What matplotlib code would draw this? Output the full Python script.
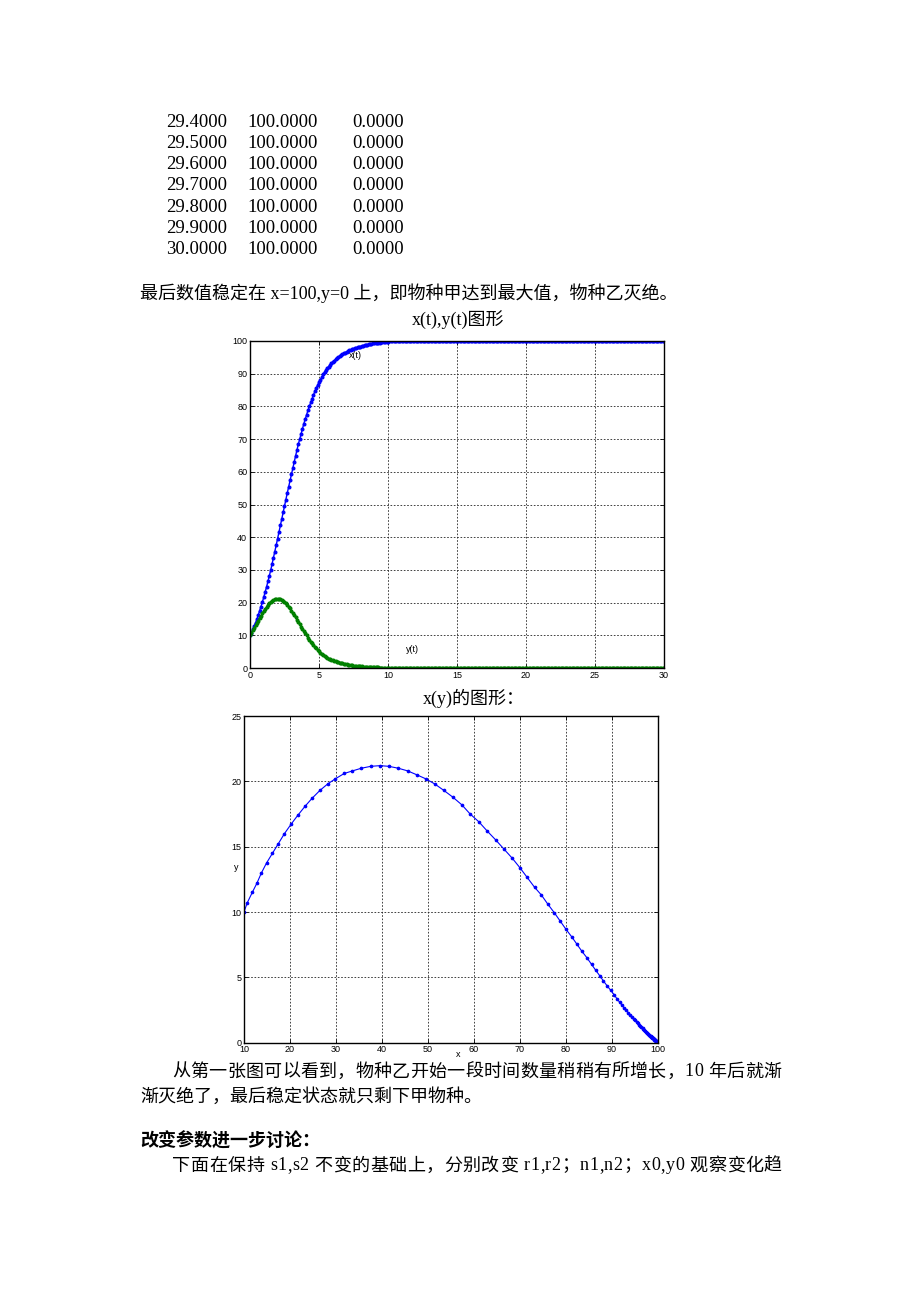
import numpy as np
import matplotlib
matplotlib.use("Agg")
import matplotlib.pyplot as plt

# ---------------- data ----------------
table_t = ["29.4000", "29.5000", "29.6000", "29.7000", "29.8000", "29.9000", "30.0000"]
table_x = ["100.0000"] * 7
table_y = ["0.0000"] * 7

# time grid (0.1 step, 0..30)
t = np.round(np.arange(0, 301) * 0.1, 1)

x_early = [
    10.0, 10.7, 11.8, 12.8, 13.8, 14.9, 16.2, 17.4, 18.8, 20.2,
    21.7, 23.3, 24.8, 26.5, 28.2, 29.9, 31.8, 33.6, 35.5, 37.6,
    39.6, 41.5, 43.6, 45.6, 47.6, 49.5, 51.5, 53.5, 55.4, 57.4,
    59.2, 61.1, 62.9, 64.8, 66.6, 68.4, 70.0, 71.6, 73.2, 74.7,
    76.1, 77.5, 78.8, 80.0, 81.3, 82.4, 83.5, 84.6, 85.6, 86.5,
    87.4, 88.2, 89.0, 89.8, 90.5,
    91.1, 91.7, 92.2, 92.7, 93.15, 93.6, 94.0, 94.4, 94.75, 95.1,
    95.4, 95.7, 95.95, 96.2, 96.45, 96.7, 96.9, 97.1, 97.3, 97.45,
    97.6, 97.75, 97.9, 98.05, 98.15, 98.3, 98.45, 98.6, 98.7, 98.8,
    98.9, 99.0, 99.1, 99.2, 99.25, 99.3, 99.37, 99.43, 99.48, 99.53,
    99.58, 99.62, 99.66, 99.7, 99.73, 99.76,
]
y_early = [
    10.0, 10.7, 11.5, 12.2, 13.0, 13.75, 14.5, 15.2, 16.0, 16.7,
    17.4, 18.1, 18.7, 19.3, 19.8, 20.2, 20.6, 20.8, 21.0, 21.15,
    21.2, 21.15, 21.0, 20.8, 20.5, 20.2, 19.8, 19.3, 18.8, 18.2,
    17.5, 16.9, 16.2, 15.5, 14.8, 14.1, 13.4, 12.65, 11.9, 11.3,
    10.6, 9.95, 9.3, 8.7, 8.1, 7.55, 7.0, 6.5, 6.0, 5.55,
    5.12, 4.72, 4.35, 4.0, 3.68,
    3.38, 3.1, 2.88, 2.67, 2.48, 2.3, 2.14, 1.99, 1.85, 1.72,
    1.6, 1.48, 1.38, 1.28, 1.19, 1.1, 1.02, 0.95, 0.88, 0.82,
    0.76, 0.71, 0.66, 0.61, 0.57, 0.53, 0.49, 0.45, 0.42, 0.39,
    0.36, 0.33, 0.3, 0.27, 0.25, 0.23, 0.21, 0.19, 0.17, 0.15,
    0.14, 0.12, 0.11, 0.1, 0.09, 0.08,
]
x_late = [100.0] * (len(t) - len(x_early))
y_late = [0.0] * (len(t) - len(y_early))
x_vals = np.array(x_early + x_late)
y_vals = np.array(y_early + y_late)

xt_ticks = [0, 5, 10, 15, 20, 25, 30]
xt_yticks = [0, 10, 20, 30, 40, 50, 60, 70, 80, 90, 100]
ph_xticks = [10, 20, 30, 40, 50, 60, 70, 80, 90, 100]
ph_yticks = [0, 5, 10, 15, 20, 25]

# ---------------- figure ----------------
W, H = 920, 1302
fig = plt.figure(figsize=(W / 100, H / 100), dpi=100)
fig.patch.set_facecolor("white")
renderer = fig.canvas.get_renderer()

TXT = ["Liberation Serif", "Noto Sans CJK SC"]
FS = 13


def ftext(px, py, s, **kw):
    kw.setdefault("fontsize", FS)
    kw.setdefault("family", TXT)
    kw.setdefault("va", "center")
    kw.setdefault("ha", "left")
    return fig.text(px / W, 1 - py / H, s, **kw)


def width_of(s, **kw):
    tt = ftext(0, 0, s + "|", **kw)
    w1 = tt.get_window_extent(renderer).width
    tt.remove()
    tt = ftext(0, 0, "|", **kw)
    w0 = tt.get_window_extent(renderer).width
    tt.remove()
    return w1 - w0


def justified(px, py, s, right, **kw):
    total = width_of(s, **kw)
    extra = max((right - px - total) / max(len(s) - 1, 1), 0)
    for k, ch in enumerate(s):
        if ch == " ":
            continue
        pos = px + width_of(s[:k], **kw) + k * extra
        ftext(pos, py, ch, **kw)


# table
row_y = [122.5, 143.5, 164.7, 186, 207.2, 228.4, 249.6]
for ry, a, b, c in zip(row_y, table_t, table_x, table_y):
    ftext(166, ry, a, family="Liberation Serif", fontsize=13.5)
    ftext(247, ry, b, family="Liberation Serif", fontsize=13.5)
    ftext(352, ry, c, family="Liberation Serif", fontsize=13.5)

ftext(140, 293, "最后数值稳定在 x=100,y=0 上，即物种甲达到最大值，物种乙灭绝。")
ftext(412, 320, "x(t),y(t)图形")
ftext(423, 698, "x(y)的图形：")

justified(172, 1072, "从第一张图可以看到，物种乙开始一段时间数量稍稍有所增长，10 年后就渐", 781)
ftext(140, 1097, "渐灭绝了，最后稳定状态就只剩下甲物种。")
ftext(140, 1141, "改变参数进一步讨论：", fontweight="bold")
justified(172, 1166, "下面在保持 s1,s2 不变的基础上，分别改变 r1,r2；n1,n2；x0,y0 观察变化趋", 782)


def style_axes(ax):
    ax.grid(True, color="#222222", linestyle=(0, (2, 2)), linewidth=0.6)
    ax.tick_params(direction="in", length=3, width=0.6, pad=2,
                   top=True, right=True, labelsize=6.5)
    for lab in ax.get_xticklabels() + ax.get_yticklabels():
        lab.set_family("Liberation Sans")
    for sp in ax.spines.values():
        sp.set_linewidth(1.0)
        sp.set_color("black")


# ---- chart 1: x(t), y(t) ----
ax1 = fig.add_axes([250 / W, 1 - 668 / H, 414 / W, 327 / H])
ax1.plot(t, x_vals, ".-", color="#0000ff", lw=1.0, ms=3.8)
ax1.plot(t, y_vals, ".-", color="#008000", lw=1.0, ms=3.8)
ax1.set_xlim(0, 30)
ax1.set_ylim(0, 100)
ax1.set_xticks(xt_ticks)
ax1.set_yticks(xt_yticks)
style_axes(ax1)
ax1.text(7.2, 95.5, "x(t)", fontsize=6.5, family="Liberation Sans", va="center")
ax1.text(11.3, 5.7, "y(t)", fontsize=6.5, family="Liberation Sans", va="center")

# ---- chart 2: phase plot y vs x ----
ax2 = fig.add_axes([244 / W, 1 - 1042.7 / H, 413.7 / W, 326.7 / H])
ax2.plot(x_vals, y_vals, ".-", color="#0000ff", lw=0.8, ms=3.3)
ax2.set_xlim(10, 100)
ax2.set_ylim(0, 25)
ax2.set_xticks(ph_xticks)
ax2.set_yticks(ph_yticks)
style_axes(ax2)
ax2.set_xlabel("x", fontsize=6.5, family="Liberation Sans")
ax2.xaxis.set_label_coords(0.517, -0.035)
ax2.xaxis.label.set_va("center")
ax2.set_ylabel("y", fontsize=6.5, family="Liberation Sans", rotation=0)
ax2.yaxis.set_label_coords(-0.019, 0.535)
ax2.yaxis.label.set_va("center")

fig.savefig("out.png", dpi=100, facecolor="white")
